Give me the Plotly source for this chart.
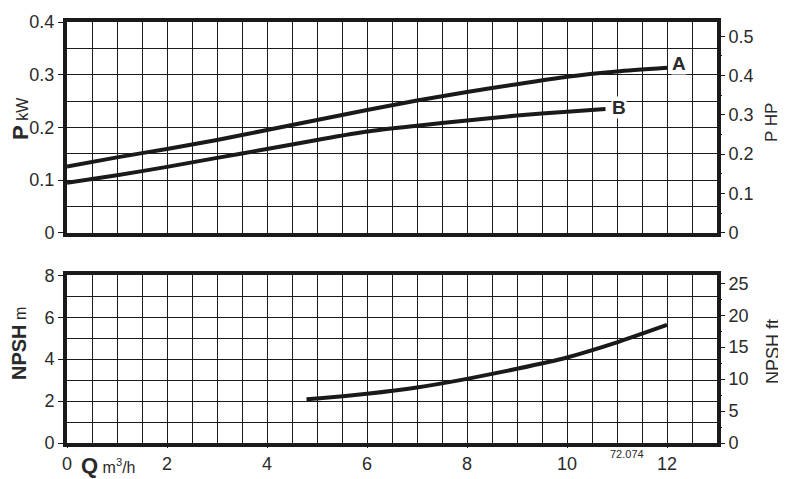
import plotly.graph_objects as go

# ---- data ----
q_A = [0, 1, 2, 3, 4, 5, 6, 7, 8, 9, 10, 11, 12]
p_A = [0.1255, 0.143, 0.159, 0.176, 0.195, 0.214, 0.233, 0.251, 0.267, 0.282, 0.296, 0.306, 0.313]
q_B = [0, 1, 2, 3, 4, 5, 6, 7, 8, 9, 10, 10.77]
p_B = [0.095, 0.109, 0.125, 0.142, 0.159, 0.176, 0.192, 0.203, 0.213, 0.2225, 0.2295, 0.2346]
q_N = [4.79, 5, 6, 7, 8, 9, 10, 11, 12]
npsh = [2.09, 2.12, 2.35, 2.65, 3.06, 3.54, 4.08, 4.8, 5.63]

KW_TO_HP = 1 / 0.7457
M_TO_FT = 3.28084
P_MAX = 0.4
N_MAX = 8
Q_MAX = 13
x_ticks = [0, 2, 4, 6, 8, 10, 12]

INK = "#1a1a1a"
TXT = "#2a2a2a"
FONT = "Liberation Sans, Arial, Helvetica, sans-serif"

# page body has an 8px margin: place plot area in screen coords 67..717 x 22..443
OFF = 8
SL, SR, ST, SB = 67, 717, 22, 443

fig = go.Figure()
line = dict(color=INK, width=4, shape="spline", smoothing=0.6)
fig.add_trace(go.Scatter(x=q_A, y=p_A, mode="lines", line=line, xaxis="x", yaxis="y", hoverinfo="skip"))
fig.add_trace(go.Scatter(x=q_B, y=p_B, mode="lines", line=line, xaxis="x", yaxis="y", hoverinfo="skip"))
fig.add_trace(go.Scatter(x=q_A, y=[v * KW_TO_HP for v in p_A], mode="lines",
                         line=dict(color="rgba(0,0,0,0)", width=0), xaxis="x", yaxis="y3", hoverinfo="skip"))
fig.add_trace(go.Scatter(x=q_N, y=npsh, mode="lines", line=line, xaxis="x2", yaxis="y2", hoverinfo="skip"))
fig.add_trace(go.Scatter(x=q_N, y=[v * M_TO_FT for v in npsh], mode="lines",
                         line=dict(color="rgba(0,0,0,0)", width=0), xaxis="x2", yaxis="y4", hoverinfo="skip"))

H = SB - ST
top_dom = [(SB - 232.7) / H, 1.0]
bot_dom = [0.0, (SB - 275.3) / H]

xcommon = dict(range=[0, Q_MAX], tickvals=x_ticks, showgrid=True, gridcolor=INK, gridwidth=1,
               minor=dict(dtick=0.5, showgrid=True, gridcolor=INK, gridwidth=1),
               showline=True, linecolor=INK, linewidth=4, mirror=True, zeroline=False,
               tickfont=dict(family=FONT, size=18, color=TXT), fixedrange=True)

ycommon = dict(showgrid=True, gridcolor=INK, gridwidth=1, showline=True, linecolor=INK,
               linewidth=4, mirror=True, zeroline=False, ticks="outside", ticklen=5,
               tickcolor=INK, tickwidth=1, tickfont=dict(family=FONT, size=18, color=TXT))

rcommon = dict(side="right", showgrid=False, zeroline=False, showline=False, ticks="outside",
               ticklen=7, tickcolor=INK, tickwidth=1, tickfont=dict(family=FONT, size=18, color=TXT))

fig.update_layout(
    width=786, height=479,
    margin=dict(l=SL - OFF, r=786 - (SR - OFF), t=ST - OFF, b=479 - (SB - OFF), autoexpand=False),
    paper_bgcolor="white", plot_bgcolor="white",
    showlegend=False,
    xaxis=dict(**xcommon, anchor="y", domain=[0, 1], showticklabels=False, ticks=""),
    xaxis2=dict(**xcommon, anchor="y2", domain=[0, 1], showticklabels=True, ticks="outside",
                ticklen=1, tickcolor=INK),
    yaxis=dict(**ycommon, domain=top_dom, anchor="x", range=[0, P_MAX], dtick=0.1,
               minor=dict(dtick=0.05, showgrid=True, gridcolor=INK, gridwidth=1)),
    yaxis2=dict(**ycommon, domain=bot_dom, anchor="x2", range=[0, N_MAX], dtick=2,
                minor=dict(dtick=1, showgrid=True, gridcolor=INK, gridwidth=1)),
    yaxis3=dict(**rcommon, overlaying="y", anchor="x", range=[0, P_MAX * KW_TO_HP], dtick=0.1,
                minor=dict(dtick=0.05, ticks="outside", ticklen=4, tickcolor=INK, showgrid=False)),
    yaxis4=dict(**rcommon, overlaying="y2", anchor="x2", range=[0, N_MAX * M_TO_FT], dtick=5,
                minor=dict(dtick=2.5, ticks="outside", ticklen=4, tickcolor=INK, showgrid=False)),
)

W = SR - SL


def px(xp):
    return (xp - SL) / W


def py(yp):
    return (SB - yp) / H


ann = [
    dict(x=px(20), y=py(119), text="<b>P</b><span style='font-size:16px'> kW</span>",
         textangle=-90, font=dict(family=FONT, size=22, color=TXT)),
    dict(x=px(771), y=py(123), text="P HP", textangle=-90, font=dict(family=FONT, size=17, color=TXT)),
    dict(x=px(19), y=py(343), text="<b>NPSH</b><span style='font-size:16px'> m</span>",
         textangle=-90, font=dict(family=FONT, size=20, color=TXT)),
    dict(x=px(773), y=py(352), text="NPSH ft", textangle=-90, font=dict(family=FONT, size=18, color=TXT)),
    dict(x=px(79), y=py(465), xanchor="left", text="<b>Q</b><span style='font-size:16px'> m<sup>3</sup>/h</span>",
         font=dict(family=FONT, size=22, color=TXT)),
    dict(x=px(627), y=py(454), text="72.074", font=dict(family=FONT, size=11, color=TXT)),
    dict(x=12.23, y=0.321, xref="x", yref="y", text="<b>A</b>", bgcolor="white", borderpad=0,
         font=dict(family=FONT, size=19, color=TXT)),
    dict(x=11.03, y=0.237, xref="x", yref="y", text="<b>B</b>", bgcolor="white", borderpad=0,
         font=dict(family=FONT, size=19, color=TXT)),
]
for a in ann:
    a.setdefault("xref", "paper")
    a.setdefault("yref", "paper")
    a.setdefault("xanchor", "center")
    a.setdefault("yanchor", "middle")
    a["showarrow"] = False
fig.update_layout(annotations=ann)

fig.write_html("out.html")
